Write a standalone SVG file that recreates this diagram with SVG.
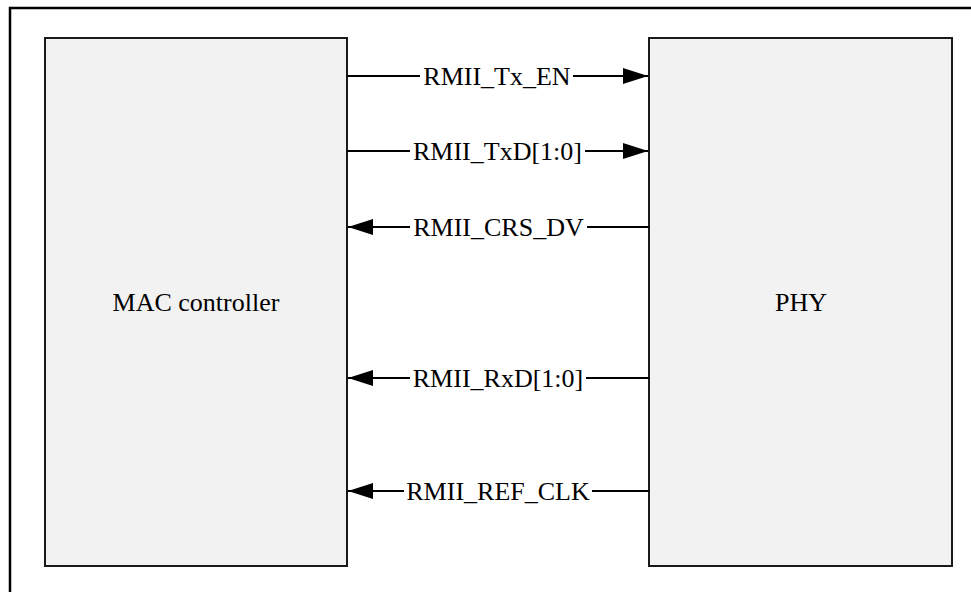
<svg xmlns="http://www.w3.org/2000/svg" width="971" height="592" viewBox="0 0 971 592">
<defs>
<marker id="ah" markerUnits="userSpaceOnUse" markerWidth="26" markerHeight="18" refX="25" refY="8" orient="auto">
<path d="M0,0 L25,8 L0,16 Z" fill="#000"/>
</marker>
</defs>
<rect x="10" y="8" width="1000" height="1000" fill="#fff" stroke="#000" stroke-width="2.5"/>
<g id="mac">
<rect x="45" y="38" width="302" height="528" fill="#f2f2f2" stroke="#1a1a1a" stroke-width="2"/>
<text x="196" y="311" font-family="Liberation Serif, Times New Roman, serif" font-size="26" text-anchor="middle" fill="#000">MAC controller</text>
</g>
<g id="phy">
<rect x="649" y="38" width="303" height="528" fill="#f2f2f2" stroke="#1a1a1a" stroke-width="2"/>
<text x="801" y="311" font-family="Liberation Serif, Times New Roman, serif" font-size="26" text-anchor="middle" fill="#000">PHY</text>
</g>
<g id="connectors" stroke="#000" stroke-width="2" fill="none">
<line x1="347" y1="76" x2="420" y2="76"/>
<line x1="573" y1="76" x2="648" y2="76" marker-end="url(#ah)"/>
<line x1="347" y1="151" x2="410" y2="151"/>
<line x1="585" y1="151" x2="648" y2="151" marker-end="url(#ah)"/>
<line x1="410" y1="227" x2="348" y2="227" marker-end="url(#ah)"/>
<line x1="587" y1="227" x2="649" y2="227"/>
<line x1="410" y1="378" x2="348" y2="378" marker-end="url(#ah)"/>
<line x1="586" y1="378" x2="649" y2="378"/>
<line x1="404" y1="491" x2="348" y2="491" marker-end="url(#ah)"/>
<line x1="592" y1="491" x2="649" y2="491"/>
</g>
<g id="labels" font-family="Liberation Serif, Times New Roman, serif" font-size="26" text-anchor="middle" fill="#000">
<text x="497" y="85">RMII_Tx_EN</text>
<text x="497.5" y="160">RMII_TxD[1:0]</text>
<text x="498.5" y="236">RMII_CRS_DV</text>
<text x="498" y="387">RMII_RxD[1:0]</text>
<text x="498" y="500">RMII_REF_CLK</text>
</g>
</svg>
